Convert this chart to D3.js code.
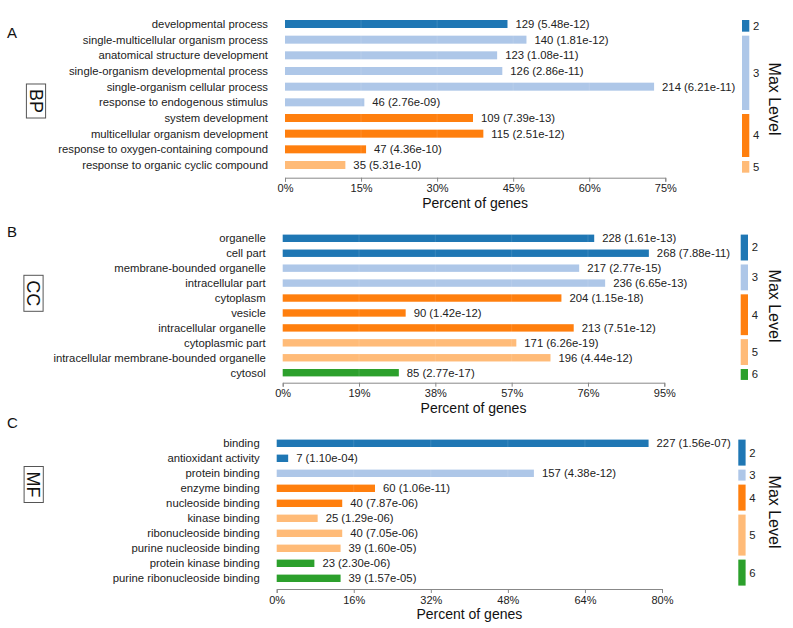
<!DOCTYPE html>
<html><head><meta charset="utf-8">
<script src="https://cdn.jsdelivr.net/npm/d3@7"></script>
<style>body{margin:0;background:#fff}svg{display:block}text{font-family:"Liberation Sans",Arial,sans-serif}</style>
</head><body>
<script>
const TOTAL_GENES = 294;
const levelColors = {2:"#1f77b4",3:"#aec7e8",4:"#ff7f0e",5:"#ffbb78",6:"#2ca02c"};

const bpTerms = ["developmental process","single-multicellular organism process","anatomical structure development","single-organism developmental process","single-organism cellular process","response to endogenous stimulus","system development","multicellular organism development","response to oxygen-containing compound","response to organic cyclic compound"];
const bpCounts = [129,140,123,126,214,46,109,115,47,35];
const bpPvalues = ["5.48e-12","1.81e-12","1.08e-11","2.86e-11","6.21e-11","2.76e-09","7.39e-13","2.51e-12","4.36e-10","5.31e-10"];
const bpLevels = [2,3,3,3,3,3,4,4,4,5];
const bpTicks = [0,15,30,45,60,75];

const ccTerms = ["organelle","cell part","membrane-bounded organelle","intracellular part","cytoplasm","vesicle","intracellular organelle","cytoplasmic part","intracellular membrane-bounded organelle","cytosol"];
const ccCounts = [228,268,217,236,204,90,213,171,196,85];
const ccPvalues = ["1.61e-13","7.88e-11","2.77e-15","6.65e-13","1.15e-18","1.42e-12","7.51e-12","6.26e-19","4.44e-12","2.77e-17"];
const ccLevels = [2,2,3,3,4,4,4,5,5,6];
const ccTicks = [0,19,38,57,76,95];

const mfTerms = ["binding","antioxidant activity","protein binding","enzyme binding","nucleoside binding","kinase binding","ribonucleoside binding","purine nucleoside binding","protein kinase binding","purine ribonucleoside binding"];
const mfCounts = [227,7,157,60,40,25,40,39,23,39];
const mfPvalues = ["1.56e-07","1.10e-04","4.38e-12","1.06e-11","7.87e-06","1.29e-06","7.05e-06","1.60e-05","2.30e-06","1.57e-05"];
const mfLevels = [2,2,3,4,4,5,5,5,6,6];
const mfTicks = [0,16,32,48,64,80];

const svg = d3.select("body").append("svg").attr("width",793).attr("height",628);

const panels = [
  {letter:"A", ont:"BP", terms:bpTerms, counts:bpCounts, pv:bpPvalues, levels:bpLevels, ticks:bpTicks,
   x0:285, x1:665.3, yFirst:24, yLast:165, barH:8, axisY:177.7, letterY:38, box:[36,101], legX:742, maxLevelY:99},
  {letter:"B", ont:"CC", terms:ccTerms, counts:ccCounts, pv:ccPvalues, levels:ccLevels, ticks:ccTicks,
   x0:282.7, x1:664.3, yFirst:238.3, yLast:372.7, barH:7.4, axisY:382.7, letterY:236.5, box:[33.5,293.3], legX:740.7, maxLevelY:306},
  {letter:"C", ont:"MF", terms:mfTerms, counts:mfCounts, pv:mfPvalues, levels:mfLevels, ticks:mfTicks,
   x0:276.7, x1:662, yFirst:443.3, yLast:578.3, barH:7.4, axisY:589, letterY:428, box:[33.7,484.5], legX:738.3, maxLevelY:512}
];

panels.forEach(p => {
  const g = svg.append("g");
  const data = p.terms.map((t,i)=>({term:t,count:p.counts[i],pv:p.pv[i],level:p.levels[i],pct:p.counts[i]/TOTAL_GENES*100}));
  const x = d3.scaleLinear().domain([p.ticks[0], p.ticks[p.ticks.length-1]]).range([p.x0,p.x1]);
  const y = d3.scalePoint().domain(p.terms).range([p.yFirst,p.yLast]);
  const step = y.step();

  // panel letter
  g.append("text").attr("x",7).attr("y",p.letterY).attr("font-size",15).attr("fill","#111").text(p.letter);

  // ontology box label
  const bx = g.append("g").attr("transform",`translate(${p.box[0]},${p.box[1]}) rotate(90)`);
  const bt = bx.append("text").attr("text-anchor","middle").attr("dy","0.35em").attr("font-size",18).attr("fill","#111").text(p.ont);
  const bb = bt.node().getBBox();
  bx.insert("rect","text").attr("x",bb.x-5).attr("y",-9.6).attr("width",bb.width+10).attr("height",19.2)
    .attr("fill","none").attr("stroke","#555").attr("stroke-width",1);

  // category labels
  g.selectAll(".lab").data(data).join("text")
    .attr("x",p.x0-17).attr("y",d=>y(d.term)).attr("dy","0.35em")
    .attr("text-anchor","end").attr("font-size",11.3).attr("fill","#222").text(d=>d.term);

  // bars
  g.selectAll(".bar").data(data).join("rect")
    .attr("x",x(0)).attr("y",d=>y(d.term)-p.barH/2)
    .attr("width",d=>x(d.pct)-x(0)).attr("height",p.barH)
    .attr("fill",d=>levelColors[d.level]);

  // faint grid lines over bars
  g.selectAll(".grid").data(p.ticks.slice(1,-1)).join("line")
    .attr("x1",d=>x(d)).attr("x2",d=>x(d)).attr("y1",p.yFirst-p.barH/2).attr("y2",p.yLast+p.barH/2)
    .attr("stroke","#fff").attr("stroke-opacity",0.12);

  // value labels
  g.selectAll(".val").data(data).join("text")
    .attr("x",d=>x(d.pct)+8).attr("y",d=>y(d.term)).attr("dy","0.35em")
    .attr("font-size",11.3).attr("fill","#222").text(d=>`${d.count} (${d.pv})`);

  // axis
  const ax = g.append("g").attr("transform",`translate(0,${p.axisY})`)
    .call(d3.axisBottom(x).tickValues(p.ticks).tickSize(4).tickSizeOuter(4).tickPadding(3).tickFormat(d=>d+"%"));
  ax.select(".domain").attr("stroke","#888");
  ax.selectAll(".tick line").attr("stroke","#888");
  ax.selectAll(".tick text").attr("font-size",11).attr("fill","#222").attr("font-family","Liberation Sans, Arial, sans-serif");

  g.append("text").attr("x",(p.x0+p.x1)/2).attr("y",p.axisY+30).attr("text-anchor","middle")
    .attr("font-size",14).attr("fill","#111").text("Percent of genes");

  // level legend
  const groups = d3.groups(data, d=>d.level);
  groups.forEach(([lvl, rows]) => {
    const top = y(rows[0].term) - p.barH/2;
    const bottom = y(rows[rows.length-1].term) - p.barH/2 + step - 4;
    g.append("rect").attr("x",p.legX).attr("y",top).attr("width",7.3).attr("height",bottom-top)
      .attr("fill",levelColors[lvl]);
    g.append("text").attr("x",p.legX+11).attr("y",(top+bottom)/2).attr("dy","0.35em")
      .attr("font-size",11.3).attr("fill","#222").text(lvl);
  });
  g.append("text").attr("transform",`translate(775,${p.maxLevelY}) rotate(90)`)
    .attr("text-anchor","middle").attr("dy","0.35em").attr("font-size",16).attr("fill","#111").text("Max Level");
});
</script>
</body></html>
